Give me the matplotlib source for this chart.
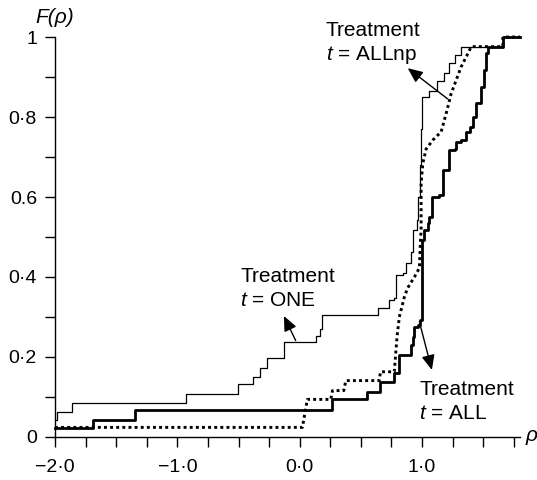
# Cumulative distribution of rho for the three treatments

import numpy as np
import matplotlib
matplotlib.use('Agg')
import matplotlib.pyplot as plt

# t = ONE (thin solid, step curve)
one_x = [-2.0, -1.98, -1.863, -0.929, -0.508, -0.385, -0.328, -0.265, -0.129, 0.131,
         0.166, 0.186, 0.642, 0.732, 0.770, 0.787, 0.842, 0.869, 0.910, 0.924,
         0.956, 0.97, 0.98, 0.99, 1.0, 1.057, 1.12, 1.183, 1.224, 1.265,
         1.32, 1.66, 1.80]
one_y = [0.0425, 0.0625, 0.085, 0.1075, 0.1325, 0.15, 0.173, 0.197, 0.238, 0.2525,
         0.27, 0.305, 0.3225, 0.3425, 0.3475, 0.405, 0.41, 0.435, 0.463, 0.5175,
         0.5425, 0.6, 0.68, 0.77, 0.849, 0.866, 0.889, 0.909, 0.934, 0.955,
         0.976, 1.0, 1.0]

# t = ALL (thick solid, step curve)
all_x = [-2.0, -1.69, -1.344, 0.26, 0.549, 0.658, 0.768, 0.814, 0.91, 0.924,
         0.937, 0.964, 0.986, 1.0, 1.019, 1.046, 1.06, 1.082, 1.142, 1.17,
         1.224, 1.265, 1.279, 1.32, 1.361, 1.388, 1.415, 1.443, 1.484, 1.51,
         1.525, 1.539, 1.66, 1.80]
all_y = [0.0217, 0.0425, 0.0675, 0.094, 0.113, 0.137, 0.159, 0.205, 0.23, 0.25,
         0.275, 0.28, 0.2925, 0.4925, 0.5175, 0.534, 0.55, 0.60, 0.605, 0.6675,
         0.7175, 0.72, 0.738, 0.7425, 0.763, 0.776, 0.80, 0.834, 0.876, 0.9175,
         0.959, 0.976, 1.0, 1.0]

# t = ALLnp (dotted, corner points)
allnp_x = [-2.0, 0.022, 0.062, 0.254, 0.268, 0.36, 0.377, 0.65, 0.66, 0.773,
           0.795, 0.814, 0.855, 0.882, 0.937, 0.978, 0.986, 0.992, 0.992, 1.006,
           1.033, 1.088, 1.156, 1.197, 1.238, 1.279, 1.320, 1.375, 1.402, 1.66,
           1.66, 1.80]
allnp_y = [0.024, 0.024, 0.094, 0.094, 0.116, 0.116, 0.141, 0.141, 0.163, 0.163,
           0.25, 0.30, 0.35, 0.3725, 0.40, 0.4225, 0.485, 0.5175, 0.634, 0.684,
           0.72, 0.7425, 0.763, 0.809, 0.859, 0.8925, 0.926, 0.959, 0.976, 0.976,
           1.0, 1.0]

x_major = [-2.0, -1.0, 0.0, 1.0]
x_labels = ['\u22122\u00b70', '\u22121\u00b70', '0\u00b70', '1\u00b70']
y_major = [0.0, 0.2, 0.4, 0.6, 0.8, 1.0]
y_labels = ['0', '0\u00b72', '0\u00b74', '0.6', '0\u00b78', '1']


def main():
    plt.rcParams['font.family'] = ['Liberation Sans', 'DejaVu Sans']
    plt.rcParams['mathtext.fontset'] = 'custom'
    plt.rcParams['mathtext.rm'] = 'Liberation Sans'
    plt.rcParams['mathtext.it'] = 'Liberation Sans:italic'

    fig = plt.figure(figsize=(5.37, 4.8), dpi=100)
    ax = fig.add_axes([0.1024, 0.0896, 0.8659, 0.8333])

    ax.plot(one_x, one_y, drawstyle='steps-post', color='k', lw=0.9, clip_on=False)
    ax.plot(all_x, all_y, drawstyle='steps-post', color='k', lw=2.0, clip_on=False)
    ax.plot(allnp_x, allnp_y, color='k', lw=2.1, linestyle=(0, (1, 1.1)), clip_on=False)

    ax.set_xlim(-2.0, 1.8)
    ax.set_ylim(0, 1)
    ax.spines['top'].set_visible(False)
    ax.spines['right'].set_visible(False)
    ax.spines['left'].set_linewidth(1.0)
    ax.spines['bottom'].set_linewidth(1.0)

    ax.set_xticks(x_major, x_labels)
    ax.set_xticks(np.arange(-1.75, 1.8, 0.25), minor=True)
    ax.set_yticks(y_major, y_labels)
    ax.set_yticks(np.arange(0.1, 1.0, 0.2), minor=True)
    ax.tick_params(axis='x', which='both', direction='out', length=7, width=1,
                   labelsize=14, pad=9)
    ax.tick_params(axis='y', which='both', direction='out', length=7, width=1,
                   labelsize=14, pad=6)

    ax.text(-2.0, 1.035, 'F(\u03c1)', style='italic', fontsize=15, ha='center', va='baseline')
    ax.text(1.844, -0.01, '\u03c1', style='italic', fontsize=15, ha='left', va='baseline')

    # labels and arrows
    arrow = dict(arrowstyle='-|>,head_length=0.5,head_width=0.22', color='k', lw=1.0,
                 mutation_scale=18, shrinkA=0, shrinkB=0)

    ax.text(-0.484, 0.3875, 'Treatment', fontsize=15, ha='left', va='baseline')
    ax.text(-0.484, 0.3275, '$t$ = ONE', fontsize=15, ha='left', va='baseline')
    ax.annotate('', xy=(-0.129, 0.3025), xytext=(-0.033, 0.241), arrowprops=arrow)

    ax.text(0.213, 1.0025, 'Treatment', fontsize=15, ha='left', va='baseline')
    ax.text(0.213, 0.9425, '$t$ = ALLnp', fontsize=15, ha='left', va='baseline')
    ax.annotate('', xy=(0.883, 0.922), xytext=(1.21, 0.845), arrowprops=arrow)

    ax.text(0.978, 0.105, 'Treatment', fontsize=15, ha='left', va='baseline')
    ax.text(0.978, 0.045, '$t$ = ALL', fontsize=15, ha='left', va='baseline')
    ax.annotate('', xy=(1.08, 0.1675), xytext=(0.978, 0.288), arrowprops=arrow)

    fig.savefig('out.png', dpi=100)


if __name__ == "__main__":
    main()
